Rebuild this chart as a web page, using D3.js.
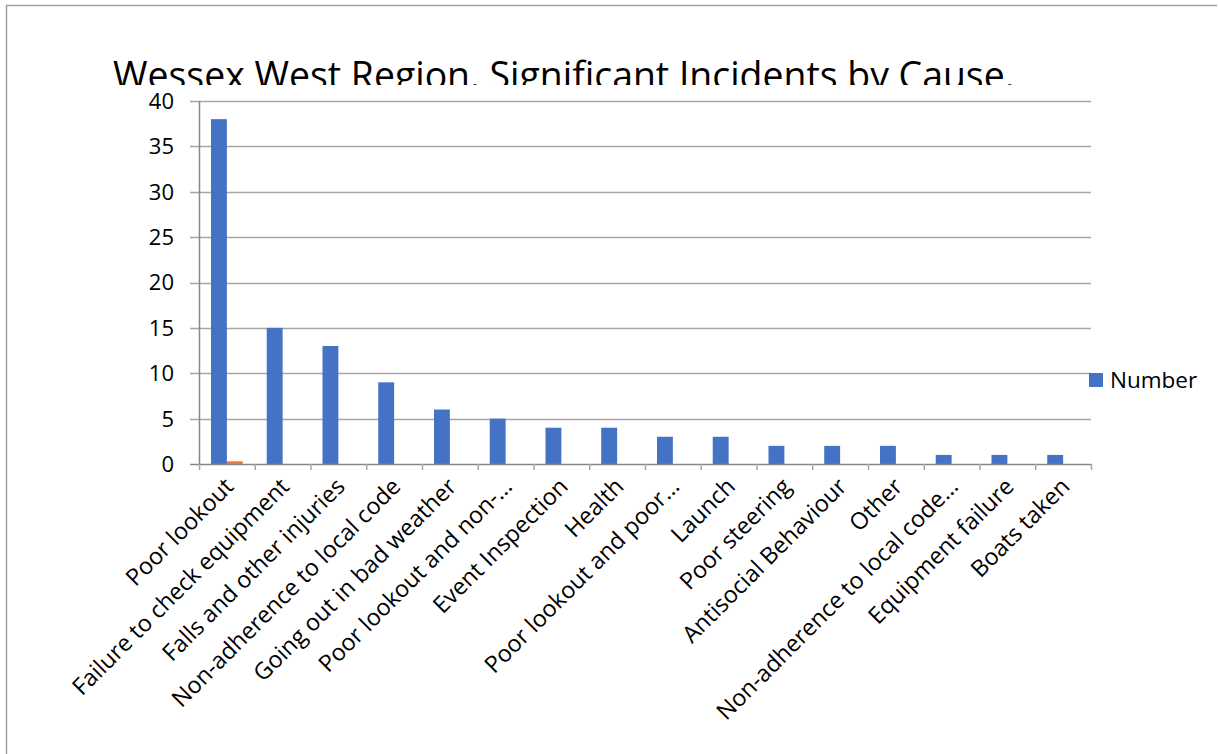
<!DOCTYPE html>
<html><head><meta charset="utf-8">
<script src="https://cdn.jsdelivr.net/npm/d3@7"></script>
<style>body{margin:0;background:#fff;} svg{display:block;}</style>
</head><body>
<script>
const categories = ["Poor lookout","Failure to check equipment","Falls and other injuries","Non-adherence to local code","Going out in bad weather","Poor lookout and non-…","Event Inspection","Health","Poor lookout and poor…","Launch","Poor steering","Antisocial Behaviour","Other","Non-adherence to local code…","Equipment failure","Boats taken"];
const numberValues = [38,15,13,9,6,5,4,4,3,3,2,2,2,1,1,1];
const otherValues = [0.3,0,0,0,0,0,0,0,0,0,0,0,0,0,0,0];
const yTicks = [0,5,10,15,20,25,30,35,40];
const seriesNames = ["Number","Series 2"];
const colors = ["#4472C4","#ED7D31"];
const titleText = "Wessex West Region. Significant Incidents by Cause.";

const W=1218,H=754;
const svg=d3.select("body").append("svg").attr("width",W).attr("height",H);
const font="'Open Sans', sans-serif";

// frame
svg.append("line").attr("x1",6.5).attr("x2",6.5).attr("y1",5).attr("y2",H).attr("stroke","#a0a0a0").attr("stroke-width",1.5);
svg.append("line").attr("x1",6).attr("x2",1217).attr("y1",5.5).attr("y2",5.5).attr("stroke","#a0a0a0").attr("stroke-width",1.5);

// title clipped
svg.append("clipPath").attr("id","tclip").append("rect").attr("x",0).attr("y",0).attr("width",W).attr("height",85);
svg.append("text").attr("clip-path","url(#tclip)").attr("x",113).attr("y",89)
  .attr("font-family",font).attr("font-size",37.4).attr("fill","#000").text(titleText);

const x0=199,x1=1091,yb=464,yt=101;
const x=d3.scaleBand().domain(categories).range([x0,x1]).paddingInner(0.43).paddingOuter(0.215);
const xs=d3.scaleBand().domain(seriesNames).range([0,x.bandwidth()]);
const y=d3.scaleLinear().domain([0,40]).range([yb,yt]);

// gridlines
svg.append("g").selectAll("line").data(yTicks.filter(d=>d>0)).join("line")
  .attr("x1",x0-9).attr("x2",x1).attr("y1",d=>Math.round(y(d))+0.5).attr("y2",d=>Math.round(y(d))+0.5)
  .attr("stroke","#a6a6a6").attr("stroke-width",1.3);

// y tick labels
svg.append("g").selectAll("text").data(yTicks).join("text")
  .attr("x",174).attr("y",d=>y(d)).attr("dy","0.36em").attr("text-anchor","end")
  .attr("font-family",font).attr("font-size",22).attr("fill","#000").text(d=>d);

// bars
const data=categories.map((c,i)=>({c,vals:[numberValues[i],otherValues[i]]}));
const g=svg.append("g").selectAll("g").data(data).join("g").attr("transform",d=>`translate(${x(d.c)},0)`);
g.selectAll("rect").data(d=>d.vals.map((v,j)=>({v,j}))).join("rect")
  .attr("x",d=>xs(seriesNames[d.j])).attr("width",xs.bandwidth())
  .attr("y",d=>y(d.v)).attr("height",d=>yb-y(d.v)).attr("fill",d=>colors[d.j]);

// axes lines
svg.append("line").attr("x1",x0+0.5).attr("x2",x0+0.5).attr("y1",yt).attr("y2",yb).attr("stroke","#868686").attr("stroke-width",1.5);
svg.append("line").attr("x1",x0-9).attr("x2",x1).attr("y1",yb+0.5).attr("y2",yb+0.5).attr("stroke","#868686").attr("stroke-width",1.5);
const tickXs=d3.range(categories.length+1).map(i=>x0+i*(x1-x0)/categories.length);
svg.append("g").selectAll("line").data(tickXs).join("line")
  .attr("x1",d=>d+0.5).attr("x2",d=>d+0.5).attr("y1",yb).attr("y2",yb+6).attr("stroke","#a6a6a6").attr("stroke-width",1.5);

// category labels
svg.append("g").selectAll("text").data(categories).join("text")
  .attr("transform",d=>`translate(${x(d)+x.bandwidth()/2+8},${yb+24}) rotate(-45)`)
  .attr("text-anchor","end").attr("font-family",font).attr("font-size",23.3).attr("fill","#000").text(d=>d);

// legend
svg.append("rect").attr("x",1089).attr("y",373).attr("width",14).attr("height",14).attr("fill",colors[0]);
svg.append("text").attr("x",1110).attr("y",388).attr("font-family",font).attr("font-size",22.5).attr("fill","#000").text(seriesNames[0]);
</script>
</body></html>
